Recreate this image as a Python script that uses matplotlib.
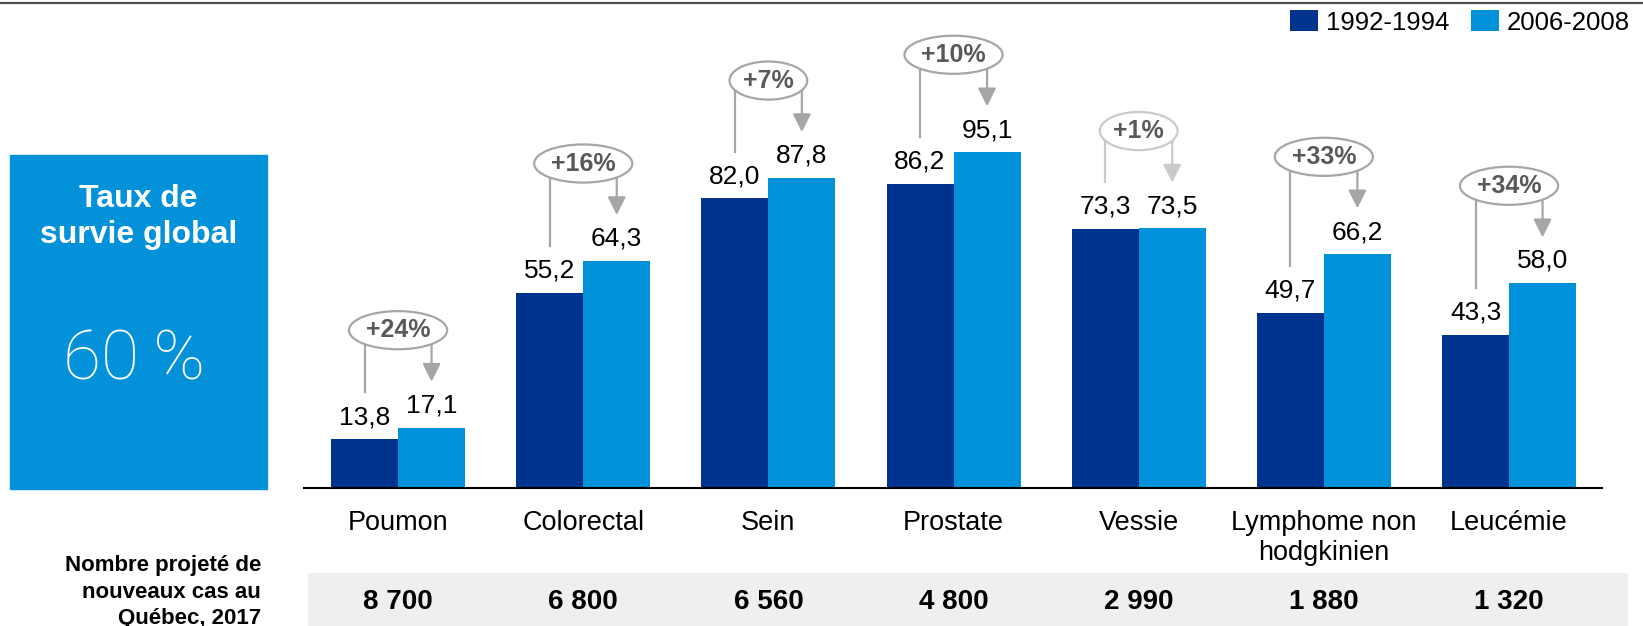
import matplotlib
matplotlib.use("Agg")
import matplotlib.pyplot as plt
from matplotlib.patches import Ellipse, Rectangle
from matplotlib.lines import Line2D
from matplotlib import transforms
import numpy as np

# data
cats = ["Poumon", "Colorectal", "Sein", "Prostate", "Vessie", "Lymphome non\nhodgkinien", "Leucémie"]
surv_1992 = [13.8, 55.2, 82.0, 86.2, 73.3, 49.7, 43.3]
surv_2006 = [17.1, 64.3, 87.8, 95.1, 73.5, 66.2, 58.0]
gains = ["+24%", "+16%", "+7%", "+10%", "+1%", "+33%", "+34%"]
new_cases = ["8 700", "6 800", "6 560", "4 800", "2 990", "1 880", "1 320"]

DARK = "#00338D"
LIGHT = "#0091DA"
GREY = "#A6A6A6"
W, H = 1643, 626

plt.rcParams["font.family"] = ["Liberation Sans", "DejaVu Sans"]

fig = plt.figure(figsize=(W / 100, H / 100), dpi=100)
ax = fig.add_axes([304 / W, 138 / H, 1298 / W, 459 / H])

x = np.arange(len(cats))
bw = 0.362
ax.bar(x - bw / 2, surv_1992, bw, color=DARK, label="1992-1994")
ax.bar(x + bw / 2, surv_2006, bw, color=LIGHT, label="2006-2008")
ax.set_xlim(-0.508, 6.502)
ax.set_ylim(0, 130)
for s in ["top", "left", "right"]:
    ax.spines[s].set_visible(False)
ax.spines["bottom"].set_linewidth(1.5)
ax.set_yticks([])
ax.set_xticks(x, cats, fontsize=19.5)
ax.tick_params(axis="x", length=0, pad=16)

fmt = lambda v: f"{v:.1f}".replace(".", ",")
for xi, a, b in zip(x, surv_1992, surv_2006):
    ax.annotate(fmt(a), (xi - bw / 2, a), xytext=(0, 16), textcoords="offset points",
                ha="center", va="center", fontsize=19)
    ax.annotate(fmt(b), (xi + bw / 2, b), xytext=(0, 16), textcoords="offset points",
                ha="center", va="center", fontsize=19)

# change bubbles with connector lines
for xi, a, b, g in zip(x, surv_1992, surv_2006, gains):
    c = "#CACACA" if g == "+1%" else GREY
    cy = max(a, b) + 27.6
    ax.plot([xi - bw / 2] * 2, [cy, a + 13.3], color=c, lw=1.6, zorder=2)
    ax.annotate("", xy=(xi + bw / 2, b + 13.0), xytext=(xi + bw / 2, cy),
                arrowprops=dict(arrowstyle="-|>,head_length=1.1,head_width=0.55", mutation_scale=10,
                                color=c, lw=1.6, shrinkA=0, shrinkB=0), zorder=2)
    ax.add_patch(Ellipse((xi, cy), 0.09 + 0.11 * len(g), 10.8, facecolor="white",
                         edgecolor=c, lw=1.6, zorder=3, clip_on=False))
    ax.text(xi, cy, g, ha="center", va="center", fontsize=18, fontweight="bold",
            color="#595959", zorder=4)

ax.legend(loc="upper right", bbox_to_anchor=(1630 / W, 1 - 10 / H), bbox_transform=fig.transFigure,
          ncol=2, frameon=False, fontsize=18.5, handlelength=1.1, handleheight=0.9,
          handletextpad=0.3, columnspacing=0.85, borderpad=0, borderaxespad=0)

# top rule
fig.add_artist(Line2D([0, 1], [1 - 2.5 / H] * 2, transform=fig.transFigure, color="#505050", lw=1.6))

# blue box on the left
fig.add_artist(Rectangle((10 / W, (H - 489) / H), 257 / W, 334 / H, transform=fig.transFigure,
                         color="#0392DA", zorder=0))
fig.text(138.5 / W, 1 - 217 / H, "Taux de\nsurvie global", ha="center", va="center",
         fontsize=23, fontweight="bold", color="white", linespacing=1.22)
fig.text(134 / W, 1 - 361 / H, "60\u2009%", ha="center", va="center", fontsize=50,
         family=["Roboto", "DejaVu Sans"], fontweight=100, color="white")

# new cases row
fig.add_artist(Rectangle((308 / W, 0), (1627 - 308) / W, 53 / H, transform=fig.transFigure,
                         color="#EFEFEF", zorder=0))
trans = transforms.blended_transform_factory(ax.transData, fig.transFigure)
for xi, n in zip(x, new_cases):
    ax.text(xi, 24 / H, n, transform=trans, ha="center", va="center", fontsize=20, fontweight="bold")
fig.text(261 / W, 1 - 592 / H, "Nombre projeté de\nnouveaux cas au\nQuébec, 2017", ha="right",
         va="center", fontsize=16, fontweight="bold", linespacing=1.36)

fig.savefig("out.png", dpi=100)
